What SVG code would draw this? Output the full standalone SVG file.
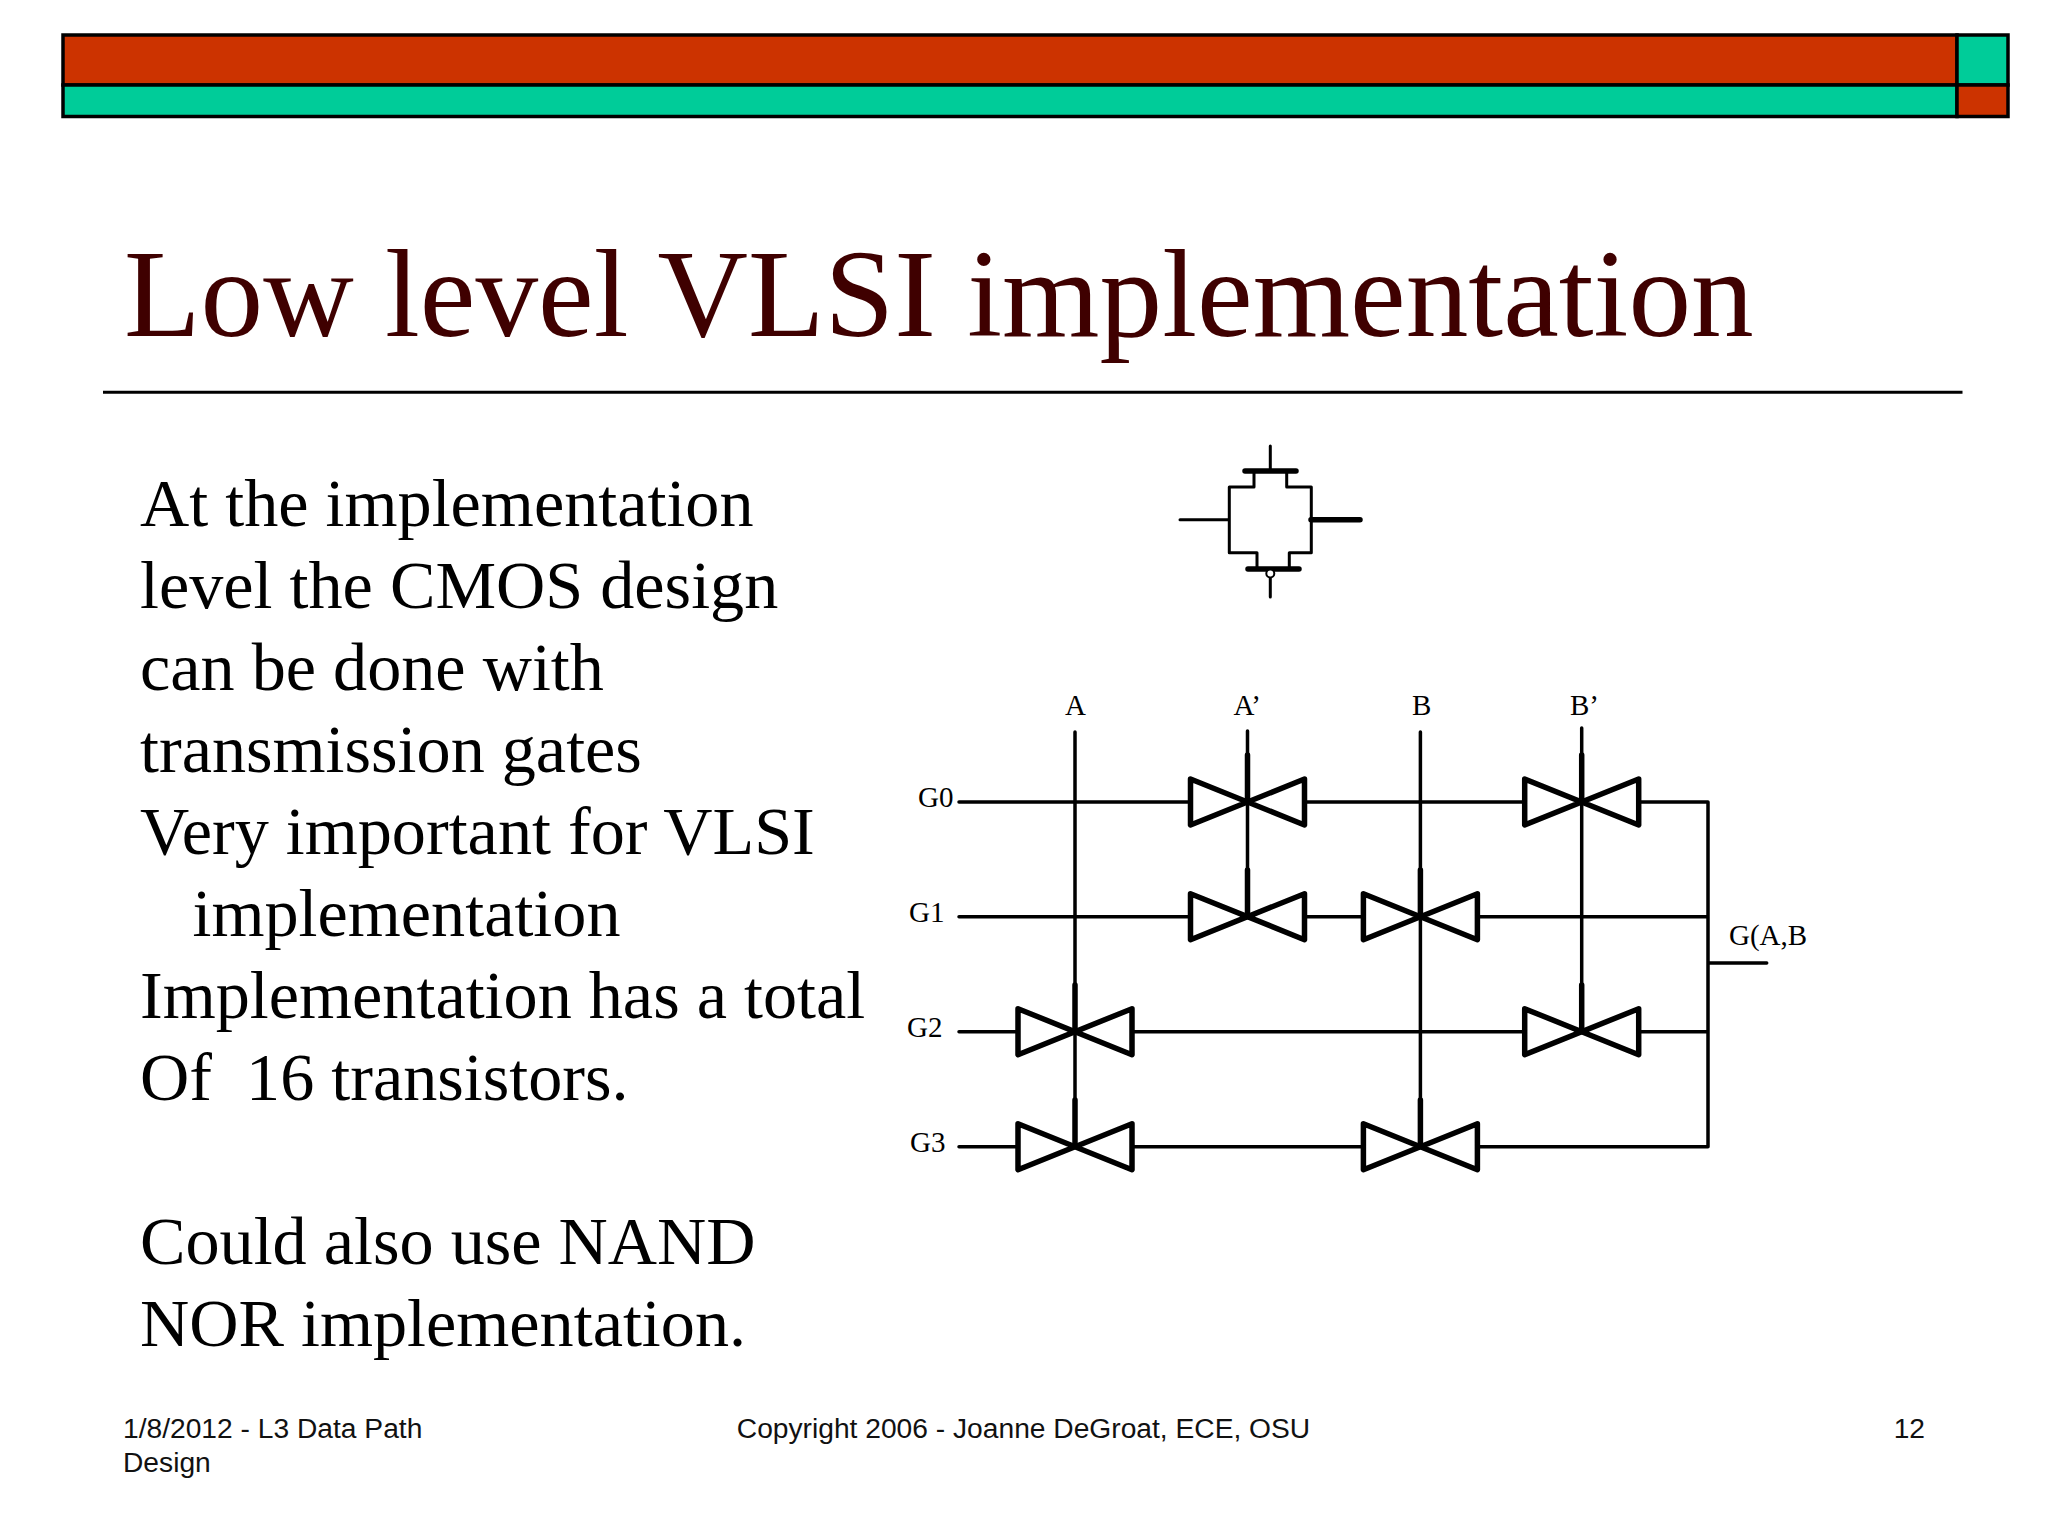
<svg xmlns="http://www.w3.org/2000/svg" xmlns:xlink="http://www.w3.org/1999/xlink" width="2048" height="1536" viewBox="0 0 2048 1536">
<style>
.bar{stroke:#000;stroke-width:3.5}
.red{fill:#cc3300}.teal{fill:#00cc99}
.w{fill:none;stroke:#000;stroke-width:3.5;stroke-linecap:round;stroke-linejoin:round}
.s{stroke-width:3}
.t{stroke-width:5.5}
.bt{fill:none;stroke:#000;stroke-width:5.5;stroke-linejoin:round}
.body{font:68.2px "Liberation Serif",serif;fill:#000}
.sch{font:29px "Liberation Serif",serif;fill:#000}
.foot{font:28.2px "Liberation Sans",sans-serif;fill:#111}
</style>
<defs>
<g id="bowtie"><path class="bt" d="M-57,-23L57,23V-23L-57,23Z"/></g>
</defs>
<rect width="2048" height="1536" fill="#fff"/>
<g id="header">
<rect class="bar red" x="63" y="35" width="1894" height="50"/>
<rect class="bar teal" x="63" y="85" width="1894" height="31.5"/>
<rect class="bar teal" x="1957" y="35" width="51" height="50"/>
<rect class="bar red" x="1957" y="85" width="51" height="31.5"/>
</g>
<text id="title" x="124" y="336" font-family="'Liberation Serif',serif" font-size="125.3" fill="#3f0000">Low level VLSI implementation</text>
<line id="rule" x1="103" y1="392.3" x2="1962.5" y2="392.3" stroke="#000" stroke-width="3"/>
<g id="bodytext">
<text class="body" x="140" y="526.3">At the implementation</text>
<text class="body" x="140" y="608.3">level the CMOS design</text>
<text class="body" x="140" y="690.3">can be done with</text>
<text class="body" x="140" y="772.3">transmission gates</text>
<text class="body" x="140" y="854.3">Very important for VLSI</text>
<text class="body" x="192.5" y="936.3">implementation</text>
<text class="body" x="140" y="1018.3">Implementation has a total</text>
<text class="body" x="140" y="1100.3" xml:space="preserve">Of  16 transistors.</text>
<text class="body" x="140" y="1264.3">Could also use NAND</text>
<text class="body" x="140" y="1346.3">NOR implementation.</text>
</g>
<g id="tg-symbol">
<path class="w s" d="M1270.3,446V471M1254,471V487H1229.3V552.7H1257V569M1286.7,471V487H1311.3V552.7H1289.3V569M1180,519.7H1229.3M1270.3,578V597"/>
<path class="w t" d="M1245,471H1296M1248,569H1299M1311,519.7H1360"/>
<circle cx="1270.3" cy="573.5" r="4" fill="#fff" stroke="#000" stroke-width="2"/>
</g>
<g id="connectors">
<path class="w" d="M959,802H1190M1305,802H1524M1640,802H1708V1146.7M959,916.7H1190M1305,916.7H1363M1478,916.7H1708M959,1031.7H1017M1133,1031.7H1524M1640,1031.7H1708M959,1146.7H1017M1133,1146.7H1363M1478,1146.7H1708M1708,963H1766.7"/>
<path class="w" d="M1075,732V1146.7M1247.5,731V916.7M1420.4,732V1146.7M1581.7,728V1031.7"/>
<path class="w t" d="M1247.5,755V802M1247.5,870V916.7M1420.4,870V916.7M1420.4,1100V1146.7M1581.7,755V802M1581.7,985V1031.7M1075,985V1031.7M1075,1100V1146.7"/>
</g>
<g id="T1"><use xlink:href="#bowtie" href="#bowtie" x="1247.5" y="802"/></g>
<g id="T2"><use xlink:href="#bowtie" href="#bowtie" x="1581.7" y="802"/></g>
<g id="T3"><use xlink:href="#bowtie" href="#bowtie" x="1247.5" y="916.7"/></g>
<g id="T4"><use xlink:href="#bowtie" href="#bowtie" x="1420.4" y="916.7"/></g>
<g id="T5"><use xlink:href="#bowtie" href="#bowtie" x="1075" y="1031.7"/></g>
<g id="T6"><use xlink:href="#bowtie" href="#bowtie" x="1581.7" y="1031.7"/></g>
<g id="T7"><use xlink:href="#bowtie" href="#bowtie" x="1075" y="1146.7"/></g>
<g id="T8"><use xlink:href="#bowtie" href="#bowtie" x="1420.4" y="1146.7"/></g>
<g id="labels">
<text class="sch" x="1065" y="715">A</text>
<text class="sch" x="1233.5" y="715">A’</text>
<text class="sch" x="1412" y="715">B</text>
<text class="sch" x="1570" y="714.5">B’</text>
<text class="sch" x="918" y="807">G0</text>
<text class="sch" x="909" y="922">G1</text>
<text class="sch" x="907" y="1037">G2</text>
<text class="sch" x="910" y="1152">G3</text>
<text class="sch" x="1729" y="945">G(A,B</text>
</g>
<g id="footer">
<text class="foot" x="123" y="1437.5">1/8/2012 - L3 Data Path</text>
<text class="foot" x="123" y="1471.5">Design</text>
<text class="foot" x="1023.5" y="1437.5" text-anchor="middle">Copyright 2006 - Joanne DeGroat, ECE, OSU</text>
<text class="foot" x="1925" y="1437.5" text-anchor="end">12</text>
</g>
</svg>
